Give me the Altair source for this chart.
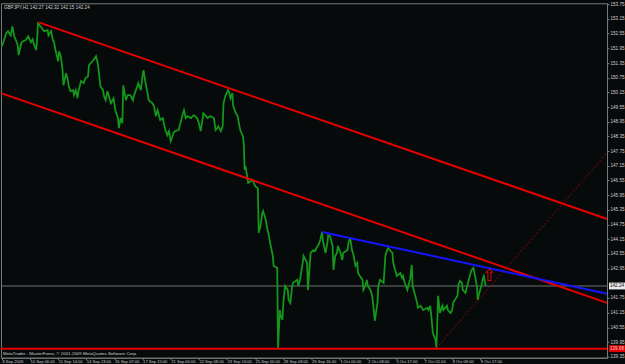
import json
import altair as alt
import pandas as pd

# ---------------- data ----------------
bars = [0, 2, 5, 7, 10, 12, 14, 16, 18, 19, 22, 24, 27, 30, 33, 35, 36, 39, 40, 41,
        44, 48, 52, 53, 56, 58, 59, 61, 64, 65, 67, 69, 70, 73, 75, 76, 78, 81, 82, 84,
        86, 87, 90, 93, 95, 98, 99, 101, 104, 107, 109, 110, 112, 115, 116, 118, 120, 124, 127, 129,
        132, 133, 135, 137, 138, 141, 143, 146, 149, 150, 152, 154, 155, 158, 160, 161, 163, 166, 167, 171,
        173, 175, 177, 178, 180, 183, 184, 186, 188, 190, 192, 194, 195, 197, 201, 205, 207, 209, 211, 215,
        218, 222, 224, 226, 228, 229, 234, 237, 241, 243, 245, 246, 249, 251, 252, 254, 257, 258, 260, 262,
        263, 266, 268, 269, 271, 274, 275, 276, 277, 280, 285, 288, 291, 292, 294, 296, 297, 300, 302, 303,
        305, 308, 309, 313, 314, 316, 317, 319, 320, 322, 325, 326, 328, 330, 331, 336, 337, 339, 342, 343,
        347, 348, 351, 354, 356, 359, 360, 362, 364, 365, 368, 370, 371, 373, 376, 377, 379, 381, 382, 385,
        387, 388, 393, 394, 396, 398, 400, 402, 404, 405, 407, 410, 411, 413, 415, 416, 419, 421, 422, 424,
        427, 428, 430, 434, 436, 438, 439, 441, 444, 445, 447, 449, 453, 455, 456, 458, 461, 462, 464, 466,
        467, 470, 472, 473, 476, 479, 484, 485, 487, 489, 490, 493, 494, 495, 496, 498, 501, 502, 506, 507,
        510, 512, 513, 518, 519, 521, 523, 524, 527, 529, 530, 532, 534, 536, 538, 540, 541, 542, 545, 547,
        548, 550]
prices = [152.04, 152.24, 152.57, 152.65, 152.48, 152.85, 152.44, 152.28, 152.08, 151.67,
          152.16, 152.24, 152.28, 152.44, 152.20, 152.32, 152.16, 151.87, 152.28, 152.97,
          152.85, 152.65, 152.69, 152.48, 152.65, 152.28, 152.24, 151.87, 151.42, 151.83,
          151.63, 151.06, 150.44, 150.93, 150.65, 150.40, 150.20, 150.24, 150.04, 150.24,
          149.91, 150.20, 150.61, 150.53, 150.73, 150.81, 151.26, 151.34, 151.46, 151.63,
          151.34, 151.06, 150.40, 150.24, 150.00, 149.83, 150.20, 149.71, 149.91, 149.42,
          149.10, 148.69, 149.10, 148.89, 150.44, 149.83, 150.04, 150.04, 149.83, 150.00,
          150.20, 150.40, 150.53, 150.24, 150.85, 151.06, 150.61, 150.04, 149.83, 149.71,
          149.59, 149.18, 149.42, 149.30, 149.02, 149.10, 148.89, 148.61, 148.40, 148.57,
          148.16, 148.36, 148.49, 148.57, 148.61, 149.18, 149.42, 149.10, 149.18, 149.10,
          149.22, 149.10, 148.89, 148.57, 149.02, 149.30, 149.10, 149.18, 149.10, 148.61,
          148.69, 148.77, 148.57, 148.77, 149.71, 149.99, 150.24, 150.20, 149.91, 150.12,
          149.59, 149.30, 149.18, 148.98, 148.61, 148.36, 148.08, 146.98, 147.14, 146.45,
          146.57, 146.32, 146.24, 144.41, 144.69, 145.22, 145.30, 144.94, 144.53, 144.41,
          144.00, 143.47, 143.06, 142.98, 139.71, 141.26, 141.02, 140.86, 141.55, 142.24,
          142.08, 141.67, 141.55, 142.24, 142.37, 142.49, 142.24, 142.49, 143.18, 143.47,
          143.18, 142.08, 143.59, 143.71, 143.67, 143.88, 143.92, 144.12, 144.45, 144.08,
          143.59, 144.00, 144.32, 144.28, 143.88, 142.90, 143.47, 143.59, 143.88, 143.59,
          143.30, 143.59, 143.71, 144.00, 144.20, 143.71, 143.47, 143.06, 143.18, 142.77,
          142.65, 142.49, 142.08, 142.24, 142.49, 142.24, 142.08, 141.84, 141.55, 140.82,
          141.55, 142.24, 142.49, 142.37, 143.47, 143.71, 143.79, 143.71, 143.59, 143.18,
          142.90, 142.65, 142.77, 142.57, 142.65, 142.37, 142.08, 142.24, 142.49, 143.10,
          142.24, 141.84, 141.55, 141.35, 141.43, 141.26, 141.35, 141.26, 141.43, 140.73,
          140.33, 140.04, 139.71, 140.73, 141.84, 141.14, 141.43, 141.26, 141.43, 141.26,
          141.14, 141.26, 141.55, 141.84, 142.28, 142.45, 142.37, 142.08, 141.96, 142.24,
          142.37, 142.65, 142.90, 142.98, 142.65, 142.24, 141.67, 141.84, 142.24, 142.57,
          142.65, 142.24]

x_tick_bars = [0, 32, 64, 96, 128, 160, 192, 224, 256, 288, 320, 352, 384, 416, 448, 480, 512, 544]
x_tick_labels = ["8 Sep 2009", "10 Sep 06:00", "11 Sep 14:00", "14 Sep 23:00", "16 Sep 07:00",
                 "17 Sep 15:00", "21 Sep 00:00", "22 Sep 08:00", "23 Sep 16:00", "25 Sep 00:00",
                 "28 Sep 08:00", "29 Sep 16:00", "1 Oct 00:00", "2 Oct 08:00", "5 Oct 17:00",
                 "7 Oct 01:00", "8 Oct 09:00", "9 Oct 17:00"]
y_ticks = [153.75, 153.15, 152.55, 151.95, 151.35, 150.75, 150.15, 149.55, 148.95, 148.35,
           147.75, 147.15, 146.55, 145.95, 145.35, 144.75, 144.15, 143.55, 142.95,
           141.75, 141.15, 140.55, 139.95, 139.35]

upper_channel_bars = [42, 688]
upper_channel_prices = [153.01, 144.98]
lower_channel_bars = [-1, 688]
lower_channel_prices = [150.12, 141.55]
blue_bars = [364, 688]
blue_prices = [144.45, 141.92]
dotted_bars = [494, 688]
dotted_prices = [139.71, 147.67]
support_level = 139.68
last_price = 142.24
arrow_bar = [554]
arrow_price = [142.65]

symbol_title = "GBPJPY,H1  142.27 142.32 142.15 142.24"
copyright_text = "MetaTrader - MasterForex, \u00a9 2001-2009 MetaQuotes Software Corp."

# ---------------- styling ----------------
BG = "#060a0a"
FG = "#d0d0d0"
GRID = "#7a7a7a"
FONT = "Liberation Sans"

xscale = alt.Scale(domain=[-1, 688], nice=False, zero=False)
yscale = alt.Scale(domain=[139.31, 153.79], nice=False, zero=False)

label_expr = "%s[indexof(%s, datum.value)]" % (json.dumps(x_tick_labels), json.dumps(x_tick_bars))

xaxis = alt.Axis(values=x_tick_bars, labelExpr=label_expr, labelAlign="left", labelBaseline="top",
                 labelFontSize=4.1, labelFont=FONT, labelColor=FG, labelPadding=0,
                 labelOverlap=False, labelFlush=False, tickColor=GRID, tickSize=2,
                 domainColor=GRID, grid=False, title=None)
yaxis = alt.Axis(orient="right", values=y_ticks, format=".2f", labelFontSize=4.6, labelFont=FONT,
                 labelColor=FG, labelPadding=1, labelOverlap=False, labelFlush=False,
                 labelBaseline="middle", tickColor=GRID, tickSize=2, domainColor=GRID,
                 grid=False, title=None)

price_df = pd.DataFrame({"bar": bars, "price": prices})


def seg(b, p):
    return pd.DataFrame({"bar": b, "price": p})


X = alt.X("bar:Q", scale=xscale, axis=xaxis)
Y = alt.Y("price:Q", scale=yscale, axis=yaxis)

last_rule = alt.Chart(pd.DataFrame({"price": [last_price]})).mark_rule(
    color="#8a8a8a", strokeWidth=0.8).encode(y=Y)

price_line = alt.Chart(price_df).mark_line(color="#14961a", strokeWidth=1.8, clip=True).encode(
    x=X, y=Y, order="bar:Q",
)

upper = alt.Chart(seg(upper_channel_bars, upper_channel_prices)).mark_line(
    color="#e60000", strokeWidth=2, clip=True).encode(x=X, y=Y)
lower = alt.Chart(seg(lower_channel_bars, lower_channel_prices)).mark_line(
    color="#e60000", strokeWidth=2, clip=True).encode(x=X, y=Y)
blue = alt.Chart(seg(blue_bars, blue_prices)).mark_line(
    color="#1414ff", strokeWidth=2, clip=True).encode(x=X, y=Y)
dotted = alt.Chart(seg(dotted_bars, dotted_prices)).mark_line(
    color="#a00000", strokeWidth=1, strokeDash=[2, 2], clip=True).encode(x=X, y=Y)

support = alt.Chart(pd.DataFrame({"price": [support_level]})).mark_rule(
    color="#e60000", strokeWidth=2).encode(y=Y)

arrow = alt.Chart(seg(arrow_bar, arrow_price)).mark_text(
    text="\u21e7", color="#e60000", fontSize=17, font="DejaVu Sans").encode(x=X, y=Y)

title_txt = alt.Chart(pd.DataFrame({"t": [symbol_title]})).mark_text(
    align="left", baseline="middle", fontSize=4.6, font=FONT, color=FG).encode(
    text="t:N", x=alt.value(3), y=alt.value(5))

copy_txt = alt.Chart(pd.DataFrame({"t": [copyright_text]})).mark_text(
    align="left", baseline="middle", fontSize=4.4, font=FONT, color=FG).encode(
    text="t:N", x=alt.value(2), y=alt.value(351))

box_df = pd.DataFrame({
    "price": [last_price, support_level],
    "top": [last_price + 0.14, support_level + 0.14],
    "bottom": [last_price - 0.14, support_level - 0.14],
    "label": ["%.2f" % last_price, "%.2f" % support_level],
    "kind": ["last", "level"],
})
boxes = alt.Chart(box_df).mark_rect(clip=False).encode(
    y=alt.Y("top:Q", scale=yscale, axis=yaxis), y2="bottom:Q",
    x=alt.value(609), x2=alt.value(625),
    color=alt.Color("kind:N", scale=alt.Scale(domain=["last", "level"], range=["#e8e8e8", "#e00000"]),
                    legend=None),
)
box_text = alt.Chart(box_df).mark_text(fontSize=4.6, font=FONT, align="center", baseline="middle").encode(
    y=Y, x=alt.value(617), text="label:N",
    color=alt.Color("kind:N", scale=alt.Scale(domain=["last", "level"], range=["#101010", "#f0d0d0"]),
                    legend=None),
)

chart = alt.layer(
    last_rule, price_line, upper, lower, blue, dotted, support, arrow,
    title_txt, copy_txt, boxes, box_text,
).resolve_scale(color="independent").properties(
    width=607, height=355, background=BG, padding=0,
).configure_view(stroke=GRID, strokeWidth=1, fill=BG)

chart.save("out.html", embed_options={"renderer": "svg", "actions": False})
